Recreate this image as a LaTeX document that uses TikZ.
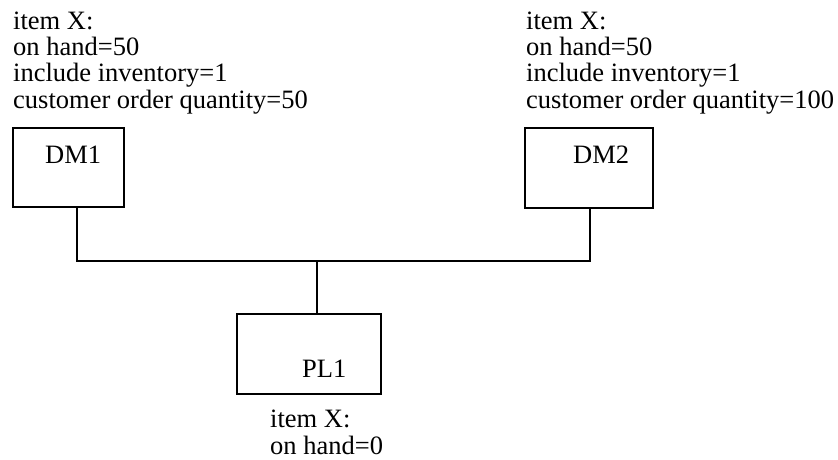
\documentclass[tikz,border=0pt]{standalone}
\usepackage{fontspec}
\setmainfont{Liberation Serif}
\begin{document}
\begin{tikzpicture}[x=1pt,y=-1pt,
  unitbox/.style={draw,line width=2pt,rectangle,inner sep=0pt},
  info/.style={anchor=base west,align=left,inner sep=0pt,font=\fontsize{26.5}{26.3}\selectfont},
  tag/.style={anchor=base west,inner sep=0pt,font=\fontsize{26.5}{26.3}\selectfont},
  wire/.style={line width=2pt}]
\useasboundingbox (0,0) rectangle (838,459);

% the three units
\node[unitbox,minimum width=111pt,minimum height=79pt] (dm1) at (68.5,167.5) {};
\node[unitbox,minimum width=128pt,minimum height=80pt] (dm2) at (589,168) {};
\node[unitbox,minimum width=144pt,minimum height=80pt] (pl1) at (309,354) {};

\node[tag] (dm1name) at (45,163) {DM1};
\node[tag] (dm2name) at (573,163) {DM2};
\node[tag] (pl1name) at (302,377) {PL1};

% item data per unit (anchored at the baseline of the last line)
\node[info] (dm1data) at (13,108) {item X:\\on hand=50\\include inventory=1\\customer order quantity=50};
\node[info] (dm2data) at (526,108) {item X:\\on hand=50\\include inventory=1\\customer order quantity=100};
\node[info] (pl1data) at (270,454) {item X:\\on hand=0};

% bus connecting the units
\coordinate (j1) at (77,261);
\coordinate (j2) at (590,261);
\coordinate (j3) at (317,261);
\draw[wire] (j1 |- dm1.south) -- (j1) -- (j2) -- (j2 |- dm2.south);
\draw[wire] (j3) -- (j3 |- pl1.north);
\end{tikzpicture}
\end{document}
